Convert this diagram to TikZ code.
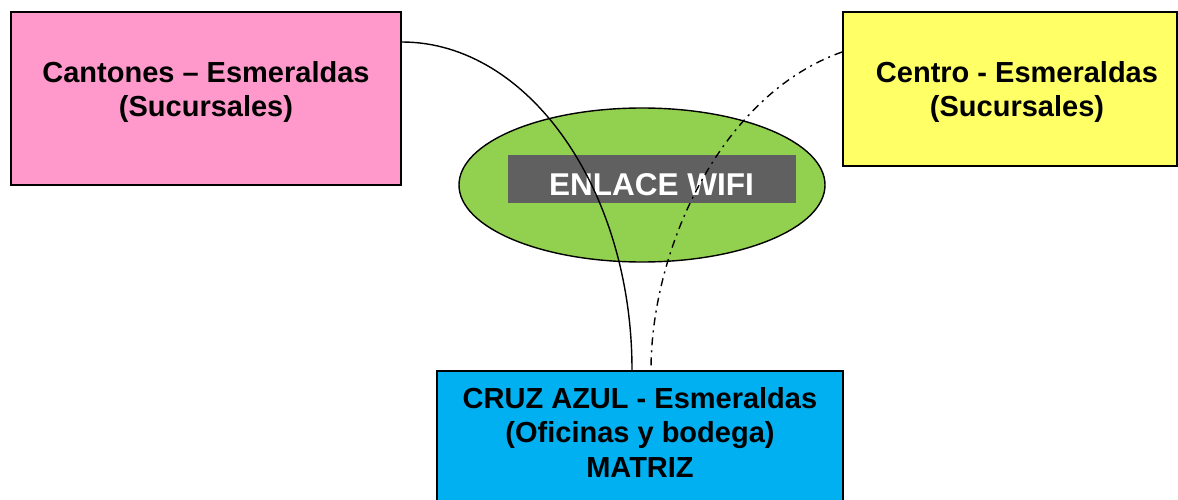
\documentclass[tikz,border=0pt]{standalone}
\usepackage{fontspec}
\setmainfont{Liberation Sans}
\usetikzlibrary{shapes.geometric}
\definecolor{pinkfill}{HTML}{FF99CC}
\definecolor{yellowfill}{HTML}{FFFF66}
\definecolor{bluefill}{HTML}{00B0F0}
\definecolor{greenfill}{HTML}{92D050}
\definecolor{greyfill}{HTML}{606060}
\tikzset{
  boxnode/.style={draw=black, line width=1.8pt, inner sep=0pt, rectangle},
  boxtext/.style={align=center, font=\fontsize{29}{34.5}\selectfont\bfseries, inner sep=0pt, anchor=base},
  linkline/.style={draw=black, line width=1.4pt},
  dashdotline/.style={draw=black, line width=1.4pt, dash pattern=on 8pt off 5pt on 2pt off 5pt}
}
\begin{document}
\begin{tikzpicture}[x=1pt,y=-1pt]
\useasboundingbox (0,0) rectangle (1178,500);
% boxes
\node[boxnode, fill=pinkfill, minimum width=390pt, minimum height=173pt] (pink) at (206,98.5) {};
\node[boxnode, fill=yellowfill, minimum width=334pt, minimum height=154pt] (yellow) at (1010,89) {};
\node[boxnode, fill=bluefill, minimum width=406pt, minimum height=140pt] (blue) at (640,441) {};
% ellipse
\node[ellipse, draw=black, line width=1.4pt, fill=greenfill, minimum width=366pt, minimum height=154pt, inner sep=0pt] (wifi) at (642,185) {};
\node[fill=greyfill, minimum width=288pt, minimum height=48pt, inner sep=0pt] (wifibar) at (652,179) {};
\node[text=white, font=\fontsize{31.5}{36}\selectfont\bfseries, inner sep=0pt, anchor=base] (wifitext) at (651.5,195) {ENLACE WIFI};
% texts
\node[boxtext] (pinktext) at (206,117) {Cantones – Esmeraldas\\(Sucursales)};
\node[boxtext] (yellowtext) at (1017,117) {Centro - Esmeraldas\\(Sucursales)};
\node[boxtext] (bluetext) at (640,477) {CRUZ AZUL - Esmeraldas\\(Oficinas y bodega)\\MATRIZ};
% connectors
\draw[linkline] (pink.east |- 0,42) .. controls (528,42) and (632,189) .. (blue.north -| 632,0);
\draw[dashdotline] (yellow.west |- 0,52) .. controls (720,95) and (651,250) .. (blue.north -| 651,0);
\end{tikzpicture}
\end{document}
